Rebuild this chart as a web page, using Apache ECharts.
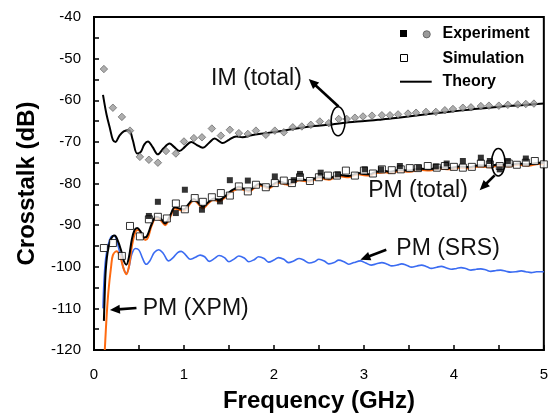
<!DOCTYPE html>
<html><head><meta charset="utf-8">
<script src="https://cdn.jsdelivr.net/npm/echarts@6/dist/echarts.min.js"></script>
<style>html,body{margin:0;padding:0;background:#fff}#c{width:551px;height:418px}</style>
</head><body><div id="c"></div>
<script>
// ---- axis ranges / ticks ----
const xRange = [0, 5];      // GHz, labels 0..5
const yRange = [-120, -40]; // dB, labels every 10

// ---- IM (total) ----
const imExperiment = [[0.11,-52.5],[0.21,-61.8],[0.31,-64.0],[0.40,-67.3],[0.51,-73.6],[0.61,-74.3],[0.71,-75.0],[0.80,-72.2],[0.91,-72.8],[1.00,-69.9],[1.11,-69.1],[1.20,-68.9],[1.31,-66.8],[1.41,-68.5],[1.51,-67.1],[1.61,-67.9],[1.71,-68.1],[1.80,-67.3],[1.91,-68.3],[2.01,-67.3],[2.11,-67.7],[2.21,-66.5],[2.31,-66.3],[2.41,-65.9],[2.51,-65.1],[2.61,-65.5],[2.72,-64.5],[2.81,-64.5],[2.90,-64.2],[2.99,-63.9],[3.09,-63.7],[3.20,-63.6],[3.29,-63.6],[3.38,-63.4],[3.49,-63.2],[3.58,-63.0],[3.69,-62.8],[3.80,-62.8],[3.90,-62.4],[3.99,-62.1],[4.10,-61.8],[4.19,-61.7],[4.30,-61.4],[4.39,-61.3],[4.50,-61.3],[4.60,-61.1],[4.71,-61.0],[4.80,-60.9],[4.89,-60.8]];
const imTheory = [[0.10,-58.7],[0.14,-63.5],[0.18,-67],[0.21,-69.5],[0.24,-70.0],[0.28,-68.6],[0.33,-67.5],[0.39,-67.2],[0.43,-69.5],[0.48,-72.8],[0.52,-72.4],[0.56,-70.6],[0.60,-69.9],[0.65,-71.2],[0.71,-73.0],[0.77,-71.6],[0.84,-70.4],[0.89,-71.2],[0.95,-72.2],[1.01,-71.2],[1.08,-70.0],[1.14,-70.7],[1.21,-71.4],[1.28,-70.2],[1.34,-69.2],[1.39,-69.8],[1.43,-70.3],[1.50,-69.5],[1.58,-68.7],[1.65,-68.9],[1.75,-68.4],[1.91,-67.9],[2.10,-67.3],[2.27,-66.7],[2.45,-66.2],[2.64,-65.8],[2.83,-65.3],[3.01,-65.0],[3.20,-64.6],[3.38,-64.2],[3.65,-63.5],[3.93,-62.8],[4.20,-62.2],[4.49,-61.6],[4.75,-61.2],[5.00,-60.8]];

// ---- PM (total) ----
const pmExperiment = [[0.61,-87.8],[0.71,-84.4],[0.91,-87.1],[1.01,-81.5],[1.20,-86.3],[1.40,-84.3],[1.51,-79.2],[1.71,-79.3],[2.01,-78.3],[2.22,-79.2],[2.29,-77.7],[2.52,-77.4],[2.71,-77.8],[3.01,-76.6],[3.19,-76.6],[3.40,-75.8],[3.61,-76.2],[3.80,-75.9],[3.92,-75.2],[4.10,-74.6],[4.30,-73.8],[4.40,-74.6],[4.51,-76.6],[4.60,-74.6],[4.80,-74.0]];
const pmSimulation = [[0.11,-95.5],[0.21,-94.3],[0.31,-97.4],[0.40,-90.2],[0.51,-92.7],[0.61,-88.6],[0.71,-88.0],[0.81,-88.4],[0.91,-84.8],[1.01,-86.2],[1.12,-83.5],[1.21,-84.4],[1.31,-83.3],[1.41,-82.3],[1.51,-82.9],[1.61,-80.7],[1.71,-81.9],[1.80,-80.3],[1.91,-80.9],[2.01,-79.9],[2.11,-79.3],[2.20,-79.9],[2.29,-78.5],[2.40,-79.4],[2.50,-78.5],[2.60,-78.1],[2.70,-78.1],[2.80,-76.9],[2.90,-78.1],[3.00,-76.9],[3.10,-77.6],[3.20,-76.6],[3.31,-76.8],[3.41,-76.6],[3.51,-76.3],[3.60,-76.3],[3.71,-75.8],[3.81,-76.2],[3.90,-75.8],[4.00,-76.0],[4.10,-76.2],[4.20,-76.0],[4.30,-75.2],[4.40,-75.4],[4.51,-75.8],[4.61,-75.2],[4.70,-75.5],[4.80,-75.0],[4.90,-74.6],[5.00,-75.4]];
const pmTheory = [[0.11,-113],[0.12,-106],[0.13,-101],[0.15,-96.7],[0.18,-93.8],[0.21,-92.6],[0.23,-92.5],[0.26,-93.5],[0.30,-96],[0.33,-98.5],[0.36,-99.5],[0.39,-97.5],[0.42,-93.5],[0.45,-91.2],[0.48,-90.7],[0.52,-91.6],[0.56,-93],[0.59,-92.6],[0.64,-89.8],[0.69,-88.0],[0.74,-88.4],[0.79,-89.6],[0.84,-88.0],[0.90,-85.7],[0.95,-86.0],[1.00,-86.2],[1.05,-85.0],[1.11,-83.7],[1.16,-84.6],[1.21,-85.6],[1.27,-84.5],[1.33,-83.6],[1.39,-84.0],[1.45,-83.2],[1.52,-81.8],[1.57,-81.2],[1.61,-80.8],[1.67,-81.3],[1.72,-81.7],[1.78,-80.8],[1.83,-80.1],[1.89,-80.5],[1.94,-80.9],[2.00,-80.1],[2.06,-79.5],[2.11,-79.8],[2.17,-80.1],[2.23,-79.4],[2.28,-78.9],[2.34,-79.1],[2.39,-79.3],[2.45,-78.8],[2.50,-78.4],[2.56,-78.6],[2.61,-78.8],[2.67,-78.3],[2.72,-77.9],[2.78,-78.1],[2.83,-78.2],[2.89,-77.8],[2.94,-77.5],[3.00,-77.7],[3.06,-77.8],[3.12,-77.3],[3.18,-77.1],[3.24,-77.0],[3.29,-77.2],[3.40,-76.7],[3.51,-76.9],[3.62,-76.4],[3.73,-76.6],[3.84,-76.1],[3.95,-76.3],[4.06,-75.9],[4.17,-76.1],[4.28,-75.6],[4.39,-75.8],[4.50,-75.4],[4.61,-75.6],[4.72,-75.2],[4.83,-75.4],[4.94,-75.0],[5.00,-75.1]];
const pmXpmTheory = [[0.12,-120],[0.14,-112],[0.16,-106],[0.19,-100],[0.21,-97.2],[0.25,-96.3],[0.29,-97.5],[0.33,-100.5],[0.36,-101.8],[0.39,-99.8],[0.42,-95.2],[0.46,-91.6],[0.49,-91.2],[0.53,-92.2],[0.57,-93.6],[0.60,-93.0],[0.64,-90.2],[0.69,-88.3],[0.74,-88.8],[0.79,-90.0],[0.84,-88.4],[0.90,-86.0],[0.95,-86.3],[1.00,-86.6],[1.05,-85.4],[1.11,-84.0],[1.16,-84.9],[1.21,-86.0],[1.27,-84.8],[1.33,-83.9],[1.39,-84.3],[1.45,-83.5],[1.52,-82.1],[1.57,-81.5],[1.61,-81.1],[1.67,-81.6],[1.72,-82.0],[1.78,-81.1],[1.83,-80.4],[1.89,-80.8],[1.94,-81.2],[2.00,-80.4],[2.06,-79.8],[2.11,-80.1],[2.17,-80.4],[2.23,-79.7],[2.28,-79.2],[2.34,-79.4],[2.39,-79.6],[2.45,-79.1],[2.50,-78.7],[2.56,-78.9],[2.61,-79.1],[2.67,-78.6],[2.72,-78.2],[2.78,-78.4],[2.83,-78.5],[2.89,-78.1],[2.94,-77.8],[3.00,-78.0],[3.06,-78.1],[3.12,-77.6],[3.18,-77.4],[3.24,-77.3],[3.29,-77.5],[3.40,-77.0],[3.51,-77.2],[3.62,-76.7],[3.73,-76.9],[3.84,-76.4],[3.95,-76.6],[4.06,-76.2],[4.17,-76.4],[4.28,-75.9],[4.39,-76.1],[4.50,-75.7],[4.61,-75.9],[4.72,-75.5],[4.83,-75.7],[4.94,-75.3],[5.00,-75.4]];

// ---- PM (SRS) ----
const pmSrsTheory = [[0.10,-110],[0.11,-104],[0.13,-98],[0.16,-94.5],[0.19,-92.8],[0.22,-92.5],[0.25,-93.5],[0.29,-97],[0.33,-100.5],[0.36,-101.6],[0.39,-100],[0.42,-97],[0.46,-95.6],[0.50,-96],[0.54,-98],[0.58,-99.4],[0.62,-98.6],[0.67,-96.6],[0.72,-95.9],[0.77,-96.8],[0.83,-98.6],[0.88,-97.8],[0.93,-96.6],[0.97,-96.3],[1.02,-97.2],[1.07,-98.2],[1.12,-97.8],[1.18,-97.2],[1.23,-97.6],[1.28,-98.7],[1.34,-98.0],[1.39,-97.3],[1.45,-97.8],[1.50,-98.8],[1.56,-98.1],[1.61,-97.4],[1.67,-97.9],[1.72,-98.8],[1.78,-98.3],[1.83,-97.6],[1.89,-98.0],[1.94,-98.9],[2.00,-98.4],[2.05,-97.8],[2.11,-98.2],[2.16,-99.0],[2.22,-98.6],[2.28,-98.0],[2.33,-98.4],[2.39,-99.1],[2.45,-98.8],[2.50,-98.2],[2.56,-98.6],[2.61,-99.3],[2.67,-99.0],[2.72,-98.4],[2.78,-98.8],[2.83,-99.4],[2.89,-99.0],[2.96,-98.6],[3.02,-99.1],[3.08,-99.6],[3.14,-99.3],[3.20,-99.0],[3.26,-99.4],[3.31,-99.8],[3.37,-99.6],[3.42,-99.3],[3.48,-99.7],[3.53,-100.1],[3.59,-99.8],[3.64,-99.6],[3.70,-100.0],[3.75,-100.4],[3.81,-100.1],[3.86,-99.9],[3.92,-100.3],[3.97,-100.6],[4.03,-100.4],[4.08,-100.2],[4.14,-100.5],[4.19,-100.8],[4.25,-100.6],[4.30,-100.5],[4.36,-100.8],[4.41,-101.1],[4.47,-100.9],[4.52,-100.8],[4.58,-101.1],[4.63,-101.3],[4.69,-101.2],[4.75,-101.0],[4.80,-101.2],[4.86,-101.4],[4.92,-101.2],[5.00,-101.2]];

// ---- annotations (data coordinates) ----
const annotations = [
  {text:'IM (total)', at:[2.31,-54.9], align:'right', arrow:[[2.718,-61.5],[2.387,-54.9]], ellipse:[2.713,-65.05,7,14.5]},
  {text:'PM (total)', at:[4.155,-81.6], align:'right', arrow:[[4.453,-78.05],[4.287,-81.6]], ellipse:[4.494,-74.9,6.7,13.7]},
  {text:'PM (SRS)', at:[3.36,-95.7], align:'left', arrow:[[3.249,-95.9],[2.961,-98.3]]},
  {text:'PM (XPM)', at:[0.541,-110.0], align:'left', arrow:[[0.472,-109.9],[0.177,-110.4]]}
];

const FONT = "'Liberation Sans', Arial, sans-serif";
const chart = echarts.init(document.getElementById('c'), null, {renderer:'canvas'});

const lineS = (name, data, color, w) => ({name, type:'line', data, showSymbol:false, symbol:'none', smooth:0.35, lineStyle:{color, width:w}, itemStyle:{color}, z:2});

chart.setOption({
  animation:false,
  backgroundColor:'#fff',
  grid:{left:94, right:4.5, top:17, bottom:62.5, show:true, borderColor:'#000', borderWidth:2},
  xAxis:{type:'value', min:xRange[0], max:xRange[1], interval:1,
    name:'Frequency (GHz)', nameLocation:'middle', nameGap:39,
    nameTextStyle:{fontFamily:FONT, fontSize:24, fontWeight:'bold', color:'#000'},
    axisLine:{lineStyle:{color:'#000', width:2}},
    axisTick:{inside:true, length:5, lineStyle:{color:'#000', width:1.5}},
    minorTick:{show:true, splitNumber:2, length:5, lineStyle:{color:'#000', width:1.5}},
    splitLine:{show:false},
    axisLabel:{fontFamily:FONT, fontSize:15, color:'#000', margin:17}},
  yAxis:{type:'value', min:yRange[0], max:yRange[1], interval:10,
    name:'Crosstalk (dB)', nameLocation:'middle', nameGap:55,
    nameTextStyle:{fontFamily:FONT, fontSize:24, fontWeight:'bold', color:'#000'},
    axisLine:{lineStyle:{color:'#000', width:2}},
    axisTick:{inside:true, length:5, lineStyle:{color:'#000', width:1.5}},
    minorTick:{show:true, splitNumber:2, length:5, lineStyle:{color:'#000', width:1.5}},
    splitLine:{show:false},
    axisLabel:{fontFamily:FONT, fontSize:15, color:'#000', margin:13}},
  series:[
    lineS('PM (SRS)', pmSrsTheory, '#3b6cf2', 1.6),
    lineS('PM (XPM)', pmXpmTheory, '#ff6a10', 2),
    lineS('PM theory', pmTheory, '#000', 2),
    lineS('IM theory', imTheory, '#000', 2),
    {name:'IM experiment', type:'scatter', data:imExperiment, symbol:'diamond', symbolSize:7.5,
      itemStyle:{color:'#9a9a9a', borderColor:'#555', borderWidth:0.8}, z:4},
    {name:'PM simulation', type:'scatter', data:pmSimulation, symbol:'rect', symbolSize:7,
      itemStyle:{color:'#fff', borderColor:'#000', borderWidth:1}, z:4},
    {name:'PM experiment', type:'scatter', data:pmExperiment, symbol:'rect', symbolSize:6,
      itemStyle:{color:'#000'}, z:5}
  ]
});

// annotations & legend via graphic, placed with the chart's own coordinate conversion
const g = [];
function arrow(p1, p2){
  const dx = p2[0]-p1[0], dy = p2[1]-p1[1];
  const L = Math.hypot(dx,dy), ux = dx/L, uy = dy/L;
  const hl = 10, hw = 4.5;
  const bx = p2[0]-ux*hl, by = p2[1]-uy*hl;
  g.push({type:'line', shape:{x1:p1[0], y1:p1[1], x2:bx+ux*2, y2:by+uy*2}, style:{stroke:'#000', lineWidth:2.6}, z:20});
  g.push({type:'polygon', shape:{points:[[p2[0],p2[1]],[bx-uy*hw,by+ux*hw],[bx+uy*hw,by-ux*hw]]}, style:{fill:'#000'}, z:20});
}
annotations.forEach(a=>{
  const p = chart.convertToPixel({gridIndex:0}, a.at);
  g.push({type:'text', x:p[0], y:p[1], style:{text:a.text, fontFamily:FONT, fontSize:23, fill:'#111', align:a.align, verticalAlign:'middle'}, z:20});
  arrow(chart.convertToPixel({gridIndex:0}, a.arrow[0]), chart.convertToPixel({gridIndex:0}, a.arrow[1]));
  if(a.ellipse){
    const c = chart.convertToPixel({gridIndex:0}, [a.ellipse[0], a.ellipse[1]]);
    g.push({type:'ellipse', shape:{cx:c[0], cy:c[1], rx:a.ellipse[2], ry:a.ellipse[3]}, style:{fill:null, stroke:'#000', lineWidth:1.6}, z:20});
  }
});
// legend
const legTxt = {fontFamily:FONT, fontSize:16, fontWeight:'bold', fill:'#000', verticalAlign:'middle'};
g.push({type:'rect', shape:{x:400, y:30, width:7, height:7}, style:{fill:'#000'}, z:20});
g.push({type:'circle', shape:{cx:426.7, cy:34.3, r:3.6}, style:{fill:'#9a9a9a', stroke:'#555', lineWidth:0.8}, z:20});
g.push({type:'text', x:442.5, y:34, style:Object.assign({text:'Experiment'}, legTxt), z:20});
g.push({type:'rect', shape:{x:400.5, y:54.5, width:7, height:7}, style:{fill:'#fff', stroke:'#000', lineWidth:1}, z:20});
g.push({type:'text', x:442.5, y:58.5, style:Object.assign({text:'Simulation'}, legTxt), z:20});
g.push({type:'line', shape:{x1:400, y1:81.7, x2:431.7, y2:81.7}, style:{stroke:'#000', lineWidth:2}, z:20});
g.push({type:'text', x:442.5, y:81.5, style:Object.assign({text:'Theory'}, legTxt), z:20});

chart.setOption({graphic:g});
</script>
</body></html>
